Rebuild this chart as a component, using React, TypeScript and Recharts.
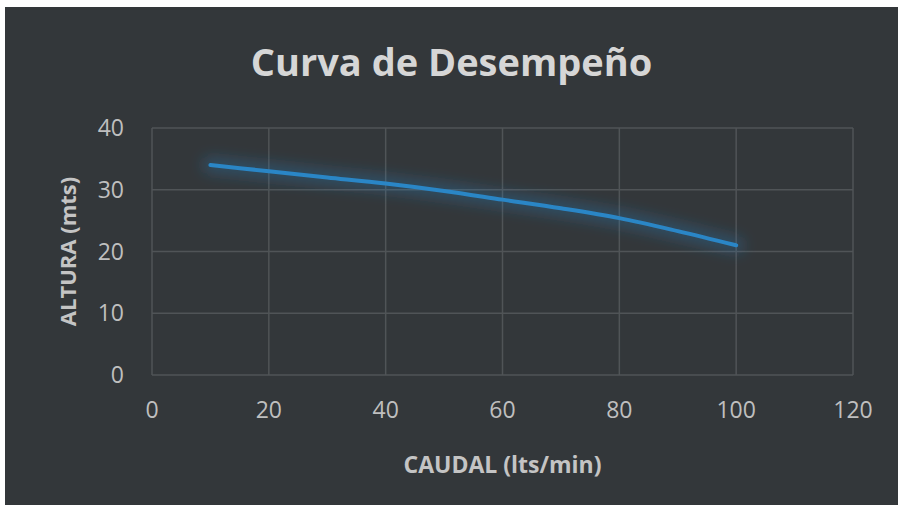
import { LineChart, Line, XAxis, YAxis, CartesianGrid } from "recharts";

const caudal = [10, 20, 30, 40, 50, 60, 70, 80, 90, 100];
const altura = [34, 33, 32, 31, 29.8, 28.4, 27, 25.4, 23.3, 21];
const xTicks = [0, 20, 40, 60, 80, 100, 120];
const yTicks = [0, 10, 20, 30, 40];

const data = caudal.map((q, i) => ({ q, h: altura[i] }));

const c = {
  bg: "#33373a",
  grid: "#505457",
  tick: "#bfbfbf",
  label: "#c4c4c4",
  title: "#d6d6d6",
  line: "#2a86c6",
  font: "'Open Sans', sans-serif",
};

export default function App() {
  return (
    <div
      style={{
        position: "absolute",
        left: 5,
        top: 7,
        width: 893,
        height: 498,
        background: c.bg,
        fontFamily: c.font,
      }}
    >
      <div
        style={{
          position: "absolute",
          left: 0,
          width: 893,
          top: 31,
          textAlign: "center",
          color: c.title,
          fontSize: 38,
          fontWeight: 700,
          lineHeight: "46px",
        }}
      >
        Curva de Desempeño
      </div>
      <LineChart
        width={893}
        height={498}
        data={data}
        margin={{ top: 121, right: 45, bottom: 100, left: 87 }}
      >
        <defs>
          <filter id="glow" x="-20%" y="-50%" width="140%" height="200%">
            <feGaussianBlur stdDeviation="7" />
          </filter>
        </defs>
        <CartesianGrid stroke={c.grid} strokeWidth={1.5} />
        <XAxis
          type="number"
          dataKey="q"
          domain={[0, 120]}
          ticks={xTicks}
          axisLine={false}
          tickLine={false}
          tickSize={0}
          tickMargin={27}
          tick={{ fill: c.tick, fontSize: 23, fontFamily: c.font }}
          label={{
            content: ({ viewBox }: any) => (
              <text
                x={viewBox.x + viewBox.width / 2}
                y={viewBox.y + 98}
                textAnchor="middle"
                fill={c.label}
                fontSize={23}
                fontWeight={700}
                fontFamily={c.font}
              >
                CAUDAL (lts/min)
              </text>
            ),
          }}
        />
        <YAxis
          type="number"
          domain={[0, 40]}
          ticks={yTicks}
          width={60}
          axisLine={false}
          tickLine={false}
          tickSize={0}
          tickMargin={28}
          tick={{ fill: c.tick, fontSize: 23, fontFamily: c.font }}
          label={{
            content: ({ viewBox }: any) => {
              const cx = 71;
              const cy = viewBox.y + viewBox.height / 2;
              return (
                <text
                  x={cx}
                  y={cy}
                  transform={`rotate(-90 ${cx} ${cy})`}
                  textAnchor="middle"
                  fill={c.label}
                  fontSize={22}
                  fontWeight={700}
                  fontFamily={c.font}
                >
                  ALTURA (mts)
                </text>
              );
            },
          }}
        />
        <Line
          type="monotone"
          dataKey="h"
          stroke={c.line}
          strokeOpacity={0.3}
          strokeWidth={16}
          strokeLinecap="round"
          filter="url(#glow)"
          dot={false}
          activeDot={false}
          isAnimationActive={false}
        />
        <Line
          type="monotone"
          dataKey="h"
          stroke={c.line}
          strokeWidth={4}
          strokeLinecap="round"
          dot={false}
          activeDot={false}
          isAnimationActive={false}
        />
      </LineChart>
    </div>
  );
}
